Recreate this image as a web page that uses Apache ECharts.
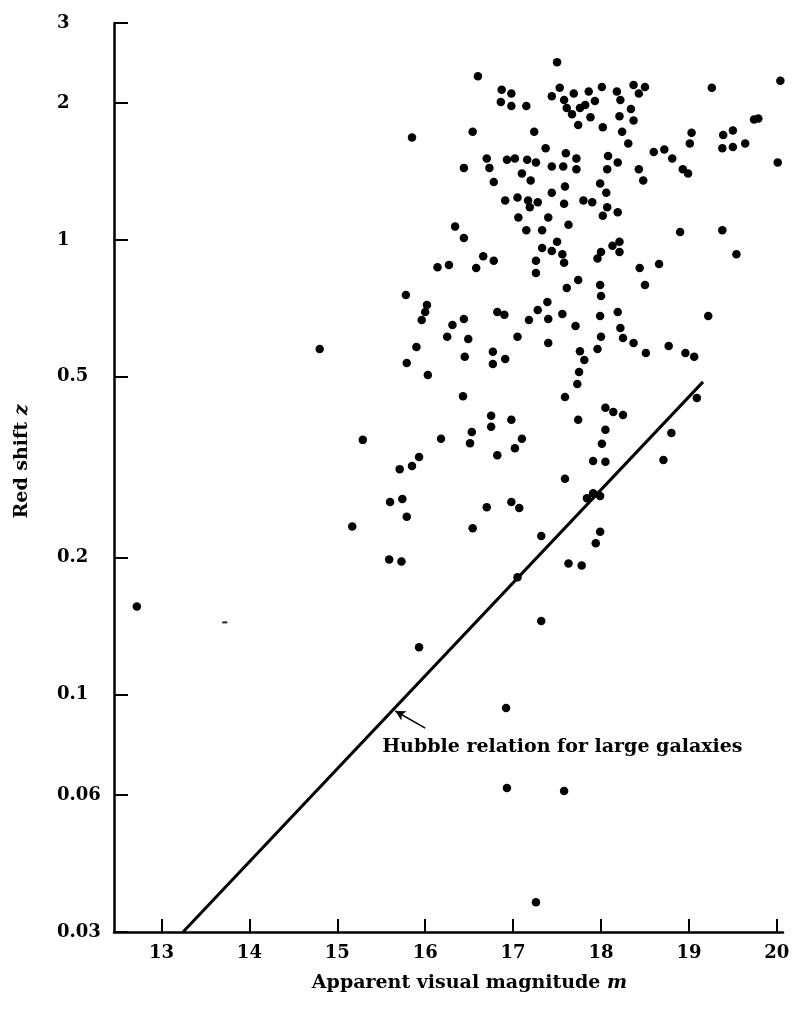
<!DOCTYPE html>
<html>
<head>
<meta charset="utf-8">
<script src="https://cdn.jsdelivr.net/npm/echarts@6/dist/echarts.min.js"></script>
<style>
  html, body { margin: 0; padding: 0; background: #fff; }
  #chart { width: 797px; height: 1010px; }
</style>
</head>
<body>
<div id="chart"></div>
<script>
// ---- data: [apparent visual magnitude m, red shift z] ----
const objectsTop = [
  [16.60,2.29],[16.87,2.14],[16.98,2.10],[16.86,2.01],[16.98,1.97],[17.15,1.97],[17.50,2.46],[17.44,2.07],
  [17.53,2.16],[15.85,1.68],[16.54,1.73],[17.24,1.73],[17.37,1.59],[16.44,1.44],[16.70,1.51],[16.73,1.44],
  [16.78,1.34],[16.93,1.50],[17.02,1.51],[17.16,1.50],[17.26,1.48],[17.44,1.45],[17.10,1.40],[17.20,1.35],
  [17.44,1.27],[16.91,1.22],[17.05,1.24],[17.17,1.22],[17.19,1.18],[17.28,1.21],[17.06,1.12],[17.40,1.12],
  [17.15,1.05],[17.33,1.05],[16.34,1.07],[16.44,1.01],[17.50,0.99],[17.44,0.945],[17.33,0.96],[16.66,0.92],
  [16.78,0.90],[16.14,0.87],[16.27,0.88],[16.58,0.867],[17.26,0.90],[17.26,0.845]
];
const objectsTopRight = [
  [17.69,2.10],[17.86,2.12],[18.01,2.17],[18.18,2.12],[18.37,2.19],[18.50,2.17],[18.43,2.10],[17.58,2.03],
  [17.61,1.95],[17.67,1.89],[17.76,1.95],[17.82,1.98],[17.93,2.02],[17.88,1.86],[18.22,2.03],[18.34,1.94],
  [18.21,1.87],[18.37,1.83],[17.74,1.79],[18.02,1.77],[18.24,1.73],[18.31,1.63],[19.26,2.16],[20.04,2.24],
  [19.74,1.84],[19.79,1.85],[19.03,1.72],[19.01,1.63],[19.39,1.70],[19.50,1.74],[19.38,1.59],[19.50,1.60],
  [19.64,1.63],[20.01,1.48],[18.60,1.56],[18.72,1.58],[18.81,1.51],[18.93,1.43],[18.99,1.40],[18.43,1.43],
  [18.48,1.35],[17.60,1.55],[17.72,1.51],[17.57,1.45],[17.72,1.43],[18.08,1.53],[18.19,1.48],[18.07,1.43],
  [17.99,1.33],[18.06,1.27],[17.59,1.31],[17.58,1.20],[17.80,1.22],[17.90,1.21],[18.07,1.18],[18.02,1.13],
  [18.19,1.15],[17.63,1.08],[18.90,1.04],[19.38,1.05],[19.54,0.93],[17.56,0.93],[17.58,0.89],[17.96,0.91],
  [18.00,0.94],[18.13,0.97],[18.21,0.99],[18.21,0.94],[18.44,0.867],[18.66,0.885],[17.74,0.816],[17.61,0.784],
  [17.99,0.796],[18.50,0.796]
];
const objectsMiddle = [
  [15.78,0.756],[16.02,0.719],[16.00,0.694],[15.96,0.666],[16.31,0.650],[16.44,0.670],[16.25,0.612],[16.49,0.605],
  [15.90,0.581],[15.79,0.536],[16.03,0.504],[16.45,0.553],[16.82,0.694],[16.90,0.684],[17.05,0.612],[17.18,0.666],
  [17.28,0.701],[17.39,0.730],[17.40,0.670],[17.40,0.593],[16.77,0.567],[16.91,0.547],[16.77,0.533],[16.43,0.453],
  [16.75,0.410],[16.75,0.388],[16.98,0.402],[16.53,0.378],[16.51,0.357],[16.18,0.365],[15.29,0.363],[17.10,0.365],
  [17.02,0.348],[16.82,0.336],[15.93,0.333],[15.85,0.318],[15.71,0.313],[15.60,0.265],[15.74,0.269],[15.79,0.246],
  [16.70,0.258],[16.98,0.265],[17.07,0.257],[15.17,0.234],[16.54,0.232],[17.32,0.223],[15.59,0.198],[15.73,0.196]
];
const objectsMiddleRight = [
  [18.00,0.752],[17.56,0.687],[17.71,0.646],[17.99,0.680],[18.19,0.694],[18.22,0.640],[18.25,0.608],[18.37,0.593],
  [18.51,0.564],[18.00,0.612],[17.96,0.575],[17.76,0.569],[17.81,0.544],[17.75,0.512],[17.73,0.482],[17.59,0.451],
  [18.77,0.584],[18.96,0.564],[19.06,0.553],[19.22,0.680],[18.05,0.427],[18.14,0.418],[18.25,0.412],[17.74,0.402],
  [18.05,0.382],[18.01,0.356],[17.91,0.326],[18.05,0.325],[17.59,0.298],[18.80,0.376],[18.71,0.328],[19.09,0.449],
  [17.84,0.270],[17.91,0.277],[17.99,0.273],[17.99,0.228],[17.94,0.215]
];
const objectsSparse = [
  [12.72,0.156],[15.93,0.127],[17.05,0.181],[17.32,0.145],[16.92,0.0933],[16.93,0.0622],[17.26,0.0349],
  [17.63,0.194],[17.78,0.192],[17.58,0.0613],[14.80,0.575]
];
const faintMarks = [[13.72,0.144]];

// Hubble relation for large galaxies (straight line on the log plot)
const hubbleM = [13.245, 19.16];
const hubbleZ = [0.03, 0.487];
const hubbleLabelAt = [15.51, 0.0766];
const arrowFrom = [16.00, 0.0843];
const arrowTo = [15.66, 0.0919];

// axis ticks
const mTicks = [13, 14, 15, 16, 17, 18, 19, 20];
const zTicks = [0.03, 0.06, 0.1, 0.2, 0.5, 1, 2, 3];

// ---- chart ----
const FONT = 'DejaVu Serif';
const txt = { fontFamily: FONT, fontWeight: 'bold', fontSize: 18, color: '#000' };
const txtBig = Object.assign({}, txt, { fontSize: 19 });
const allPoints = [].concat(objectsTop, objectsTopRight, objectsMiddle, objectsMiddleRight, objectsSparse);

const chart = echarts.init(document.getElementById('chart'), null, { renderer: 'canvas' });
chart.setOption({
  animation: false,
  backgroundColor: '#ffffff',
  grid: { left: 114, top: 23, width: 669, height: 909, containLabel: false, outerBoundsMode: 'none' },
  xAxis: {
    type: 'value', min: 12.46, max: 20.07,
    name: 'Apparent visual magnitude {i|m}',
    nameLocation: 'middle', nameGap: 42,
    nameTextStyle: Object.assign({}, txtBig, {
      padding: [0, 0, 0, 42],
      rich: { i: Object.assign({}, txtBig, { fontStyle: 'italic' }) }
    }),
    axisLine: { show: true, onZero: false, lineStyle: { color: '#000', width: 2.5 } },
    axisTick: { show: true, inside: true, length: 13, lineStyle: { color: '#000', width: 2 }, customValues: mTicks },
    axisLabel: Object.assign({}, txt, { margin: 12, customValues: mTicks, formatter: v => String(Math.round(v)) }),
    splitLine: { show: false }
  },
  yAxis: {
    type: 'log', logBase: 10, min: 0.03, max: 3,
    name: 'Red shift {i|z}',
    nameLocation: 'middle', nameGap: 82,
    nameTextStyle: Object.assign({}, txtBig, {
      padding: [0, 0, 0, 32],
      rich: { i: Object.assign({}, txtBig, { fontStyle: 'italic' }) }
    }),
    axisLine: { show: true, onZero: false, lineStyle: { color: '#000', width: 2.5 } },
    axisTick: { show: true, inside: true, length: 14, lineStyle: { color: '#000', width: 2 }, customValues: zTicks },
    axisLabel: Object.assign({}, txt, { margin: 57, align: 'left', customValues: zTicks,
      formatter: v => String(parseFloat(Number(v).toPrecision(2))) }),
    splitLine: { show: false },
    minorTick: { show: false }
  },
  series: [
    {
      type: 'line',
      data: hubbleM.map((m, i) => [m, hubbleZ[i]]),
      symbol: 'none',
      lineStyle: { color: '#000', width: 3 },
      z: 3,
      markLine: {
        silent: true,
        symbol: ['none', 'arrow'],
        symbolSize: [8, 10],
        lineStyle: { color: '#000', width: 1.5, type: 'solid' },
        label: { show: false },
        data: [[{ coord: arrowFrom }, { coord: arrowTo }]]
      },
      markPoint: {
        silent: true,
        symbol: 'circle', symbolSize: 0,
        data: [{
          coord: hubbleLabelAt,
          label: Object.assign({}, txtBig, { show: true, position: 'right', distance: 0,
            formatter: 'Hubble relation for large galaxies' })
        }]
      }
    },
    {
      type: 'scatter',
      data: allPoints,
      symbol: 'circle',
      symbolSize: 8.5,
      itemStyle: { color: '#000', opacity: 1 },
      z: 4
    },
    {
      type: 'scatter',
      data: faintMarks,
      symbol: 'rect',
      symbolSize: [5, 2],
      itemStyle: { color: '#222', opacity: 1 },
      z: 4
    }
  ]
});
</script>
</body>
</html>
